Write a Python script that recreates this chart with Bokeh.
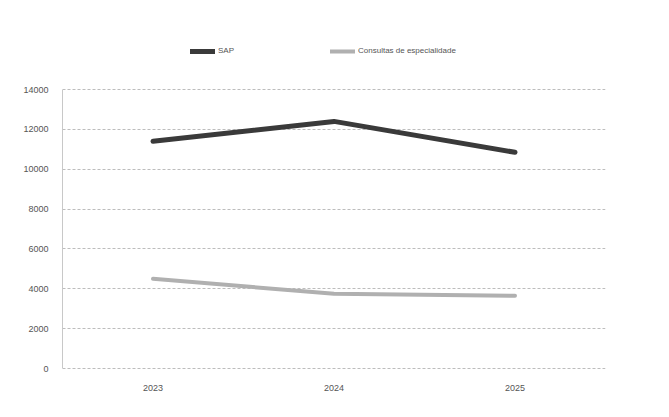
from bokeh.plotting import figure
from bokeh.models import FactorRange, Range1d, Legend, LegendItem, FixedTicker, NumeralTickFormatter
from bokeh.embed import file_html
from bokeh.resources import INLINE

years = ["2023", "2024", "2025"]
sap = [11400, 12400, 10850]
consultas = [4500, 3750, 3650]
series_names = ["SAP", "Consultas de especialidade"]
y_ticks = [0, 2000, 4000, 6000, 8000, 10000, 12000, 14000]

p = figure(width=669, height=417, output_backend="svg", toolbar_location=None,
           x_range=FactorRange(factors=years, range_padding=0),
           y_range=Range1d(-100, 16460),
           min_border_left=62, min_border_right=64, min_border_top=40, min_border_bottom=47)
p.outline_line_color = None
p.background_fill_color = "white"
p.border_fill_color = "white"

r1 = p.line(years, sap, line_color="#3a3a3a", line_width=5, line_join="round", line_cap="round")
r2 = p.line(years, consultas, line_color="#b0b0b0", line_width=4, line_join="round", line_cap="round")

p.yaxis.ticker = FixedTicker(ticks=y_ticks)
p.yaxis.formatter = NumeralTickFormatter(format="0")
p.yaxis.bounds = (0, 14000)
for ax in (p.xaxis[0], p.yaxis[0]):
    ax.major_tick_line_color = None
    ax.minor_tick_line_color = None
    ax.axis_line_color = "#c8c8c8"
    ax.major_label_text_font = "Liberation Sans"
    ax.major_label_text_font_size = "9px"
    ax.major_label_text_color = "#555555"
p.yaxis.major_label_standoff = 8
p.xaxis.major_label_standoff = 8
p.xaxis.axis_line_color = None

p.xgrid.grid_line_color = None
p.ygrid.grid_line_color = "#bdbdbd"
p.ygrid.grid_line_dash = "3 2"
p.ygrid.grid_line_width = 1

legend = Legend(items=[LegendItem(label=series_names[0], renderers=[r1]),
                       LegendItem(label=series_names[1], renderers=[r2])],
                orientation="horizontal", location=(128, 315), margin=0, padding=0,
                spacing=92, glyph_width=25, glyph_height=6, label_standoff=3,
                label_text_font="Liberation Sans", label_text_font_size="8px",
                label_text_color="#555555", border_line_color=None,
                background_fill_alpha=0)
p.add_layout(legend, "center")

open("out.html", "w").write(file_html(p, INLINE))
